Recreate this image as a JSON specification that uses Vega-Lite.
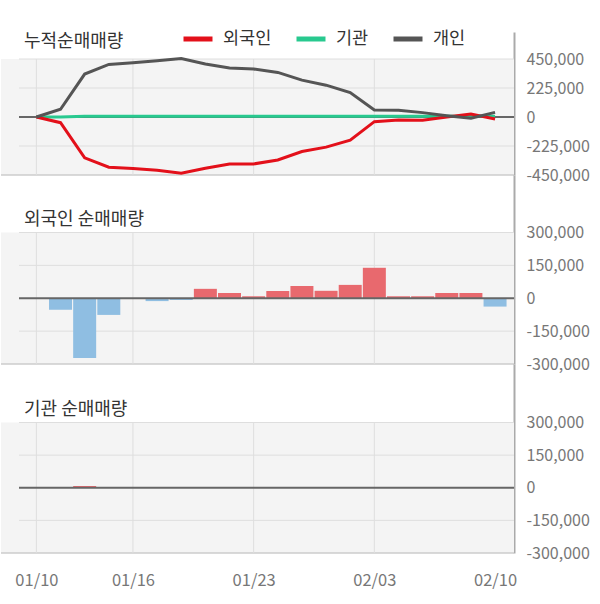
{
  "$schema": "https://vega.github.io/schema/vega-lite/v6.json",
  "background": "white",
  "padding": {"left": 0, "top": 22, "right": 0, "bottom": 0},
  "bounds": "flush",
  "spacing": 0,
  "config": {
    "font": "Noto Sans CJK KR",
    "view": {"stroke": null},
    "title": {"fontWeight": "normal", "fontSize": 18, "color": "#333333", "anchor": "start", "frame": "group"},
    "axis": {"grid": false, "ticks": false, "title": null, "labelFlush": false, "labelOverlap": false, "labelFontSize": 16, "labelColor": "#777777"},
    "axisX": {"labelFontSize": 16.5}
  },
  "datasets": {
    "daily": [
      {"i": 0, "d": "01/10", "foreign": 0, "inst": 0},
      {"i": 1, "d": "01/13", "foreign": -52000, "inst": 0},
      {"i": 2, "d": "01/14", "foreign": -273000, "inst": 8000},
      {"i": 3, "d": "01/15", "foreign": -76000, "inst": 0},
      {"i": 4, "d": "01/16", "foreign": 0, "inst": 0},
      {"i": 5, "d": "01/17", "foreign": -13000, "inst": 0},
      {"i": 6, "d": "01/20", "foreign": -8000, "inst": 0},
      {"i": 7, "d": "01/21", "foreign": 43000, "inst": 0},
      {"i": 8, "d": "01/22", "foreign": 24000, "inst": 0},
      {"i": 9, "d": "01/23", "foreign": 9000, "inst": 0},
      {"i": 10, "d": "01/28", "foreign": 33000, "inst": 0},
      {"i": 11, "d": "01/29", "foreign": 56000, "inst": 0},
      {"i": 12, "d": "01/30", "foreign": 34000, "inst": 0},
      {"i": 13, "d": "01/31", "foreign": 61000, "inst": 0},
      {"i": 14, "d": "02/03", "foreign": 139000, "inst": 0},
      {"i": 15, "d": "02/04", "foreign": 9000, "inst": 0},
      {"i": 16, "d": "02/05", "foreign": 9000, "inst": 0},
      {"i": 17, "d": "02/06", "foreign": 24000, "inst": 0},
      {"i": 18, "d": "02/07", "foreign": 24000, "inst": 0},
      {"i": 19, "d": "02/10", "foreign": -38000, "inst": 0}
    ],
    "cum": [
      {"i": 0, "d": "01/10", "s": "기관", "v": 0},
      {"i": 1, "d": "01/13", "s": "기관", "v": 0},
      {"i": 2, "d": "01/14", "s": "기관", "v": 5000},
      {"i": 3, "d": "01/15", "s": "기관", "v": 5000},
      {"i": 4, "d": "01/16", "s": "기관", "v": 5000},
      {"i": 5, "d": "01/17", "s": "기관", "v": 5000},
      {"i": 6, "d": "01/20", "s": "기관", "v": 5000},
      {"i": 7, "d": "01/21", "s": "기관", "v": 5000},
      {"i": 8, "d": "01/22", "s": "기관", "v": 5000},
      {"i": 9, "d": "01/23", "s": "기관", "v": 5000},
      {"i": 10, "d": "01/28", "s": "기관", "v": 5000},
      {"i": 11, "d": "01/29", "s": "기관", "v": 5000},
      {"i": 12, "d": "01/30", "s": "기관", "v": 5000},
      {"i": 13, "d": "01/31", "s": "기관", "v": 5000},
      {"i": 14, "d": "02/03", "s": "기관", "v": 5000},
      {"i": 15, "d": "02/04", "s": "기관", "v": 5000},
      {"i": 16, "d": "02/05", "s": "기관", "v": 5000},
      {"i": 17, "d": "02/06", "s": "기관", "v": 5000},
      {"i": 18, "d": "02/07", "s": "기관", "v": 5000},
      {"i": 19, "d": "02/10", "s": "기관", "v": 5000},
      {"i": 0, "d": "01/10", "s": "외국인", "v": 0},
      {"i": 1, "d": "01/13", "s": "외국인", "v": -44000},
      {"i": 2, "d": "01/14", "s": "외국인", "v": -317000},
      {"i": 3, "d": "01/15", "s": "외국인", "v": -390000},
      {"i": 4, "d": "01/16", "s": "외국인", "v": -400000},
      {"i": 5, "d": "01/17", "s": "외국인", "v": -413000},
      {"i": 6, "d": "01/20", "s": "외국인", "v": -437000},
      {"i": 7, "d": "01/21", "s": "외국인", "v": -398000},
      {"i": 8, "d": "01/22", "s": "외국인", "v": -364000},
      {"i": 9, "d": "01/23", "s": "외국인", "v": -364000},
      {"i": 10, "d": "01/28", "s": "외국인", "v": -333000},
      {"i": 11, "d": "01/29", "s": "외국인", "v": -268000},
      {"i": 12, "d": "01/30", "s": "외국인", "v": -234000},
      {"i": 13, "d": "01/31", "s": "외국인", "v": -179000},
      {"i": 14, "d": "02/03", "s": "외국인", "v": -36000},
      {"i": 15, "d": "02/04", "s": "외국인", "v": -23000},
      {"i": 16, "d": "02/05", "s": "외국인", "v": -26000},
      {"i": 17, "d": "02/06", "s": "외국인", "v": 0},
      {"i": 18, "d": "02/07", "s": "외국인", "v": 23000},
      {"i": 19, "d": "02/10", "s": "외국인", "v": -16000},
      {"i": 0, "d": "01/10", "s": "개인", "v": 0},
      {"i": 1, "d": "01/13", "s": "개인", "v": 60000},
      {"i": 2, "d": "01/14", "s": "개인", "v": 333000},
      {"i": 3, "d": "01/15", "s": "개인", "v": 408000},
      {"i": 4, "d": "01/16", "s": "개인", "v": 421000},
      {"i": 5, "d": "01/17", "s": "개인", "v": 437000},
      {"i": 6, "d": "01/20", "s": "개인", "v": 453000},
      {"i": 7, "d": "01/21", "s": "개인", "v": 411000},
      {"i": 8, "d": "01/22", "s": "개인", "v": 380000},
      {"i": 9, "d": "01/23", "s": "개인", "v": 372000},
      {"i": 10, "d": "01/28", "s": "개인", "v": 346000},
      {"i": 11, "d": "01/29", "s": "개인", "v": 286000},
      {"i": 12, "d": "01/30", "s": "개인", "v": 247000},
      {"i": 13, "d": "01/31", "s": "개인", "v": 190000},
      {"i": 14, "d": "02/03", "s": "개인", "v": 55000},
      {"i": 15, "d": "02/04", "s": "개인", "v": 52000},
      {"i": 16, "d": "02/05", "s": "개인", "v": 34000},
      {"i": 17, "d": "02/06", "s": "개인", "v": 10000},
      {"i": 18, "d": "02/07", "s": "개인", "v": -10000},
      {"i": 19, "d": "02/10", "s": "개인", "v": 36000}
    ],
    "xt": [{"i": 0}, {"i": 4}, {"i": 9}, {"i": 14}],
    "yt1": [{"v": 450000}, {"v": 225000}, {"v": -225000}],
    "yt2": [{"v": 300000}, {"v": 150000}, {"v": -150000}]
  },
  "vconcat": [
    {
      "width": 513,
      "height": 143,
      "title": {"text": "누적순매매량", "offset": -19, "dx": 23},
      "layer": [
        {
          "data": {"values": [{}]},
          "mark": {"type": "rect", "color": "#f4f4f4"},
          "encoding": {
            "x": {"value": 0}, "x2": {"value": "width"},
            "y": {"datum": -450000, "type": "quantitative", "scale": {"domain": [-450000, 659500], "nice": false, "zero": false},
                  "axis": {"orient": "right", "values": [450000, 225000, 0, -225000, -450000], "labelExpr": "replace(format(datum.value, ','), '\u2212', '-')", "domain": true, "domainColor": "#aaaaaa", "domainWidth": 2, "labelPadding": 12}},
            "y2": {"datum": 450000}
          }
        },
        {
          "data": {"name": "yt1"},
          "mark": {"type": "rule", "color": "#dedede", "strokeWidth": 1},
          "encoding": {
            "x": {"datum": -0.72, "type": "quantitative", "scale": {"domain": [-1.466, 19.785], "nice": false, "zero": false, "padding": 0}, "axis": null},
            "x2": {"value": "width"},
            "y": {"field": "v", "type": "quantitative", "scale": {"domain": [-450000, 659500], "nice": false, "zero": false},
                  "axis": {"orient": "right", "values": [450000, 225000, 0, -225000, -450000], "labelExpr": "replace(format(datum.value, ','), '\u2212', '-')", "domain": true, "domainColor": "#aaaaaa", "domainWidth": 2, "labelPadding": 12}}
          }
        },
        {
          "data": {"values": [{}]},
          "mark": {"type": "rule", "color": "#cccccc", "strokeWidth": 1.5},
          "encoding": {
            "x": {"value": 0}, "x2": {"value": "width"},
            "y": {"datum": -450000, "type": "quantitative", "scale": {"domain": [-450000, 659500], "nice": false, "zero": false},
                  "axis": {"orient": "right", "values": [450000, 225000, 0, -225000, -450000], "labelExpr": "replace(format(datum.value, ','), '\u2212', '-')", "domain": true, "domainColor": "#aaaaaa", "domainWidth": 2, "labelPadding": 12}}
          }
        },
        {
          "data": {"name": "xt"},
          "mark": {"type": "rule", "color": "#dedede", "strokeWidth": 1},
          "encoding": {
            "x": {"field": "i", "type": "quantitative", "scale": {"domain": [-1.466, 19.785], "nice": false, "zero": false, "padding": 0}, "axis": null},
            "y": {"datum": -450000, "type": "quantitative", "scale": {"domain": [-450000, 659500], "nice": false, "zero": false},
                  "axis": {"orient": "right", "values": [450000, 225000, 0, -225000, -450000], "labelExpr": "replace(format(datum.value, ','), '\u2212', '-')", "domain": true, "domainColor": "#aaaaaa", "domainWidth": 2, "labelPadding": 12}},
            "y2": {"datum": 450000}
          }
        },
        {
          "data": {"values": [{}]},
          "mark": {"type": "rule", "color": "#666666", "strokeWidth": 2},
          "encoding": {
            "x": {"datum": -0.72, "type": "quantitative", "scale": {"domain": [-1.466, 19.785], "nice": false, "zero": false, "padding": 0}, "axis": null},
            "x2": {"value": "width"},
            "y": {"datum": 0, "type": "quantitative", "scale": {"domain": [-450000, 659500], "nice": false, "zero": false},
                  "axis": {"orient": "right", "values": [450000, 225000, 0, -225000, -450000], "labelExpr": "replace(format(datum.value, ','), '\u2212', '-')", "domain": true, "domainColor": "#aaaaaa", "domainWidth": 2, "labelPadding": 12}}
          }
        },
        {
          "data": {"name": "cum"},
          "mark": {"type": "line", "strokeWidth": 3},
          "encoding": {
            "x": {"field": "i", "type": "quantitative", "scale": {"domain": [-1.466, 19.785], "nice": false, "zero": false, "padding": 0}, "axis": null},
            "y": {"field": "v", "type": "quantitative", "scale": {"domain": [-450000, 659500], "nice": false, "zero": false},
                  "axis": {"orient": "right", "values": [450000, 225000, 0, -225000, -450000], "labelExpr": "replace(format(datum.value, ','), '\u2212', '-')", "domain": true, "domainColor": "#aaaaaa", "domainWidth": 2, "labelPadding": 12}},
            "color": {"field": "s", "type": "nominal",
                      "scale": {"domain": ["외국인", "기관", "개인"], "range": ["#e3101a", "#28c98f", "#555555"]},
                      "legend": {"orient": "none", "legendX": 180, "legendY": -10, "direction": "horizontal", "title": null, "symbolType": "stroke", "symbolStrokeWidth": 5, "symbolSize": 841, "labelFontSize": 17.5, "labelColor": "#333333", "labelOffset": 8, "columnPadding": 14}},
            "order": {"field": "i", "type": "quantitative"}
          }
        }
      ]
    },
    {
      "width": 513,
      "height": 189,
      "title": {"text": "외국인 순매매량", "offset": -54, "dx": 23},
      "layer": [
        {
          "data": {"values": [{}]},
          "mark": {"type": "rect", "color": "#f4f4f4"},
          "encoding": {
            "x": {"value": 0}, "x2": {"value": "width"},
            "y": {"datum": -300000, "type": "quantitative", "scale": {"domain": [-300000, 562400], "nice": false, "zero": false},
                  "axis": {"orient": "right", "values": [300000, 150000, 0, -150000, -300000], "labelExpr": "replace(format(datum.value, ','), '\u2212', '-')", "domain": true, "domainColor": "#aaaaaa", "domainWidth": 2, "labelPadding": 12}},
            "y2": {"datum": 300000}
          }
        },
        {
          "data": {"name": "yt2"},
          "mark": {"type": "rule", "color": "#dedede", "strokeWidth": 1},
          "encoding": {
            "x": {"datum": -0.72, "type": "quantitative", "scale": {"domain": [-1.466, 19.785], "nice": false, "zero": false, "padding": 0}, "axis": null},
            "x2": {"value": "width"},
            "y": {"field": "v", "type": "quantitative", "scale": {"domain": [-300000, 562400], "nice": false, "zero": false},
                  "axis": {"orient": "right", "values": [300000, 150000, 0, -150000, -300000], "labelExpr": "replace(format(datum.value, ','), '\u2212', '-')", "domain": true, "domainColor": "#aaaaaa", "domainWidth": 2, "labelPadding": 12}}
          }
        },
        {
          "data": {"values": [{}]},
          "mark": {"type": "rule", "color": "#cccccc", "strokeWidth": 1.5},
          "encoding": {
            "x": {"value": 0}, "x2": {"value": "width"},
            "y": {"datum": -300000, "type": "quantitative", "scale": {"domain": [-300000, 562400], "nice": false, "zero": false},
                  "axis": {"orient": "right", "values": [300000, 150000, 0, -150000, -300000], "labelExpr": "replace(format(datum.value, ','), '\u2212', '-')", "domain": true, "domainColor": "#aaaaaa", "domainWidth": 2, "labelPadding": 12}}
          }
        },
        {
          "data": {"name": "xt"},
          "mark": {"type": "rule", "color": "#dedede", "strokeWidth": 1},
          "encoding": {
            "x": {"field": "i", "type": "quantitative", "scale": {"domain": [-1.466, 19.785], "nice": false, "zero": false, "padding": 0}, "axis": null},
            "y": {"datum": -300000, "type": "quantitative", "scale": {"domain": [-300000, 562400], "nice": false, "zero": false},
                  "axis": {"orient": "right", "values": [300000, 150000, 0, -150000, -300000], "labelExpr": "replace(format(datum.value, ','), '\u2212', '-')", "domain": true, "domainColor": "#aaaaaa", "domainWidth": 2, "labelPadding": 12}},
            "y2": {"datum": 300000}
          }
        },
        {
          "data": {"name": "daily"},
          "mark": {"type": "bar", "size": 23},
          "encoding": {
            "x": {"field": "i", "type": "quantitative", "scale": {"domain": [-1.466, 19.785], "nice": false, "zero": false, "padding": 0}, "axis": null},
            "y": {"field": "foreign", "type": "quantitative", "scale": {"domain": [-300000, 562400], "nice": false, "zero": false},
                  "axis": {"orient": "right", "values": [300000, 150000, 0, -150000, -300000], "labelExpr": "replace(format(datum.value, ','), '\u2212', '-')", "domain": true, "domainColor": "#aaaaaa", "domainWidth": 2, "labelPadding": 12}},
            "y2": {"datum": 0},
            "color": {"condition": {"test": "datum.foreign > 0", "value": "#e8696e"}, "value": "#8fbee2"}
          }
        },
        {
          "data": {"values": [{}]},
          "mark": {"type": "rule", "color": "#666666", "strokeWidth": 2},
          "encoding": {
            "x": {"datum": -0.72, "type": "quantitative", "scale": {"domain": [-1.466, 19.785], "nice": false, "zero": false, "padding": 0}, "axis": null},
            "x2": {"value": "width"},
            "y": {"datum": 0, "type": "quantitative", "scale": {"domain": [-300000, 562400], "nice": false, "zero": false},
                  "axis": {"orient": "right", "values": [300000, 150000, 0, -150000, -300000], "labelExpr": "replace(format(datum.value, ','), '\u2212', '-')", "domain": true, "domainColor": "#aaaaaa", "domainWidth": 2, "labelPadding": 12}}
          }
        }
      ]
    },
    {
      "width": 513,
      "height": 189,
      "title": {"text": "기관 순매매량", "offset": -55, "dx": 23},
      "layer": [
        {
          "data": {"values": [{}]},
          "mark": {"type": "rect", "color": "#f4f4f4"},
          "encoding": {
            "x": {"value": 0}, "x2": {"value": "width"},
            "y": {"datum": -300000, "type": "quantitative", "scale": {"domain": [-300000, 569000], "nice": false, "zero": false},
                  "axis": {"orient": "right", "values": [300000, 150000, 0, -150000, -300000], "labelExpr": "replace(format(datum.value, ','), '\u2212', '-')", "domain": true, "domainColor": "#aaaaaa", "domainWidth": 2, "labelPadding": 12}},
            "y2": {"datum": 300000}
          }
        },
        {
          "data": {"name": "yt2"},
          "mark": {"type": "rule", "color": "#dedede", "strokeWidth": 1},
          "encoding": {
            "x": {"datum": -0.72, "type": "quantitative", "scale": {"domain": [-1.466, 19.785], "nice": false, "zero": false, "padding": 0},
                  "axis": {"values": [0, 4, 9, 14, 19], "labelExpr": "datum.value == 0 ? '01/10' : datum.value == 4 ? '01/16' : datum.value == 9 ? '01/23' : datum.value == 14 ? '02/03' : '02/10'", "domain": false, "labelPadding": 19}},
            "x2": {"value": "width"},
            "y": {"field": "v", "type": "quantitative", "scale": {"domain": [-300000, 569000], "nice": false, "zero": false},
                  "axis": {"orient": "right", "values": [300000, 150000, 0, -150000, -300000], "labelExpr": "replace(format(datum.value, ','), '\u2212', '-')", "domain": true, "domainColor": "#aaaaaa", "domainWidth": 2, "labelPadding": 12}}
          }
        },
        {
          "data": {"values": [{}]},
          "mark": {"type": "rule", "color": "#cccccc", "strokeWidth": 1.5},
          "encoding": {
            "x": {"value": 0}, "x2": {"value": "width"},
            "y": {"datum": -300000, "type": "quantitative", "scale": {"domain": [-300000, 569000], "nice": false, "zero": false},
                  "axis": {"orient": "right", "values": [300000, 150000, 0, -150000, -300000], "labelExpr": "replace(format(datum.value, ','), '\u2212', '-')", "domain": true, "domainColor": "#aaaaaa", "domainWidth": 2, "labelPadding": 12}}
          }
        },
        {
          "data": {"name": "xt"},
          "mark": {"type": "rule", "color": "#dedede", "strokeWidth": 1},
          "encoding": {
            "x": {"field": "i", "type": "quantitative", "scale": {"domain": [-1.466, 19.785], "nice": false, "zero": false, "padding": 0},
                  "axis": {"values": [0, 4, 9, 14, 19], "labelExpr": "datum.value == 0 ? '01/10' : datum.value == 4 ? '01/16' : datum.value == 9 ? '01/23' : datum.value == 14 ? '02/03' : '02/10'", "domain": false, "labelPadding": 19}},
            "y": {"datum": -300000, "type": "quantitative", "scale": {"domain": [-300000, 569000], "nice": false, "zero": false},
                  "axis": {"orient": "right", "values": [300000, 150000, 0, -150000, -300000], "labelExpr": "replace(format(datum.value, ','), '\u2212', '-')", "domain": true, "domainColor": "#aaaaaa", "domainWidth": 2, "labelPadding": 12}},
            "y2": {"datum": 300000}
          }
        },
        {
          "data": {"name": "daily"},
          "mark": {"type": "bar", "size": 23},
          "encoding": {
            "x": {"field": "i", "type": "quantitative", "scale": {"domain": [-1.466, 19.785], "nice": false, "zero": false, "padding": 0},
                  "axis": {"values": [0, 4, 9, 14, 19], "labelExpr": "datum.value == 0 ? '01/10' : datum.value == 4 ? '01/16' : datum.value == 9 ? '01/23' : datum.value == 14 ? '02/03' : '02/10'", "domain": false, "labelPadding": 19}},
            "y": {"field": "inst", "type": "quantitative", "scale": {"domain": [-300000, 569000], "nice": false, "zero": false},
                  "axis": {"orient": "right", "values": [300000, 150000, 0, -150000, -300000], "labelExpr": "replace(format(datum.value, ','), '\u2212', '-')", "domain": true, "domainColor": "#aaaaaa", "domainWidth": 2, "labelPadding": 12}},
            "y2": {"datum": 0},
            "color": {"condition": {"test": "datum.inst > 0", "value": "#e8696e"}, "value": "#8fbee2"}
          }
        },
        {
          "data": {"values": [{}]},
          "mark": {"type": "rule", "color": "#666666", "strokeWidth": 2},
          "encoding": {
            "x": {"datum": -0.72, "type": "quantitative", "scale": {"domain": [-1.466, 19.785], "nice": false, "zero": false, "padding": 0},
                  "axis": {"values": [0, 4, 9, 14, 19], "labelExpr": "datum.value == 0 ? '01/10' : datum.value == 4 ? '01/16' : datum.value == 9 ? '01/23' : datum.value == 14 ? '02/03' : '02/10'", "domain": false, "labelPadding": 19}},
            "x2": {"value": "width"},
            "y": {"datum": 0, "type": "quantitative", "scale": {"domain": [-300000, 569000], "nice": false, "zero": false},
                  "axis": {"orient": "right", "values": [300000, 150000, 0, -150000, -300000], "labelExpr": "replace(format(datum.value, ','), '\u2212', '-')", "domain": true, "domainColor": "#aaaaaa", "domainWidth": 2, "labelPadding": 12}}
          }
        }
      ]
    }
  ]
}
